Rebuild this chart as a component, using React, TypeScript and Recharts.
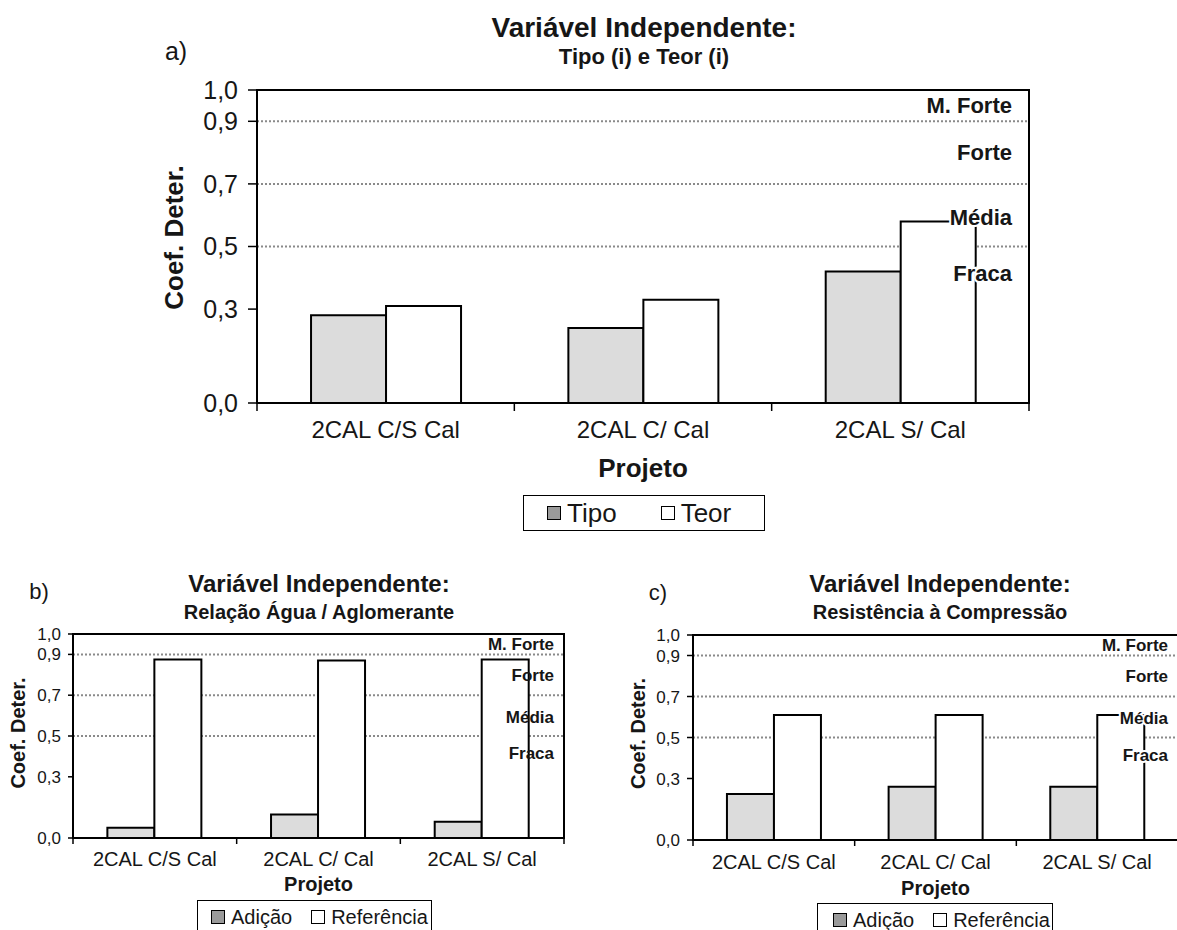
import React from 'react';
import { BarChart, Bar, XAxis, YAxis, CartesianGrid, ReferenceLine, ReferenceArea } from 'recharts';

const projetos = ['2CAL C/S Cal', '2CAL C/ Cal', '2CAL S/ Cal'];

// a) Tipo (i) e Teor (i)
const tipoValues = [0.28, 0.24, 0.42];
const teorValues = [0.31, 0.33, 0.58];

// b) Relação água / aglomerante
const aguaAdicao = [0.05, 0.115, 0.08];
const aguaReferencia = [0.875, 0.87, 0.875];

// c) Resistência à compressão
const resistAdicao = [0.225, 0.26, 0.26];
const resistReferencia = [0.61, 0.61, 0.61];

const yTicks = [0, 0.3, 0.5, 0.7, 0.9, 1.0];
const limites = [0.9, 0.7, 0.5];
const faixas = [
  { nome: 'M. Forte', y: 0.95 },
  { nome: 'Forte', y: 0.8 },
  { nome: 'Média', y: 0.595 },
  { nome: 'Fraca', y: 0.415 },
];

const FONT = '"Liberation Sans", Arial, Helvetica, sans-serif';
const INK = '#161616';
const GRAY_BAR = '#dcdcdc';
const GRAY_KEY = '#9a9a9a';
const DEFAULT_TICK_SIZE = 6;

const fmt = (v: number) => v.toFixed(1).replace('.', ',');

type Row = { projeto: string; a: number; b: number };
const buildRows = (a: number[], b: number[]): Row[] =>
  projetos.map((p, i) => ({ projeto: p, a: a[i], b: b[i] }));

// category label plus the small tick marks on the category boundaries
const makeCategoryTick =
  (band: number, tickMargin: number, fontSize: number, markLen: number) => (tp: any) => {
    const { x, y, payload, index } = tp;
    const axisY = y - DEFAULT_TICK_SIZE - tickMargin;
    const left = x - band / 2;
    const right = x + band / 2;
    return (
      <g>
        <line x1={left} x2={left} y1={axisY} y2={axisY + markLen} stroke="#000" strokeWidth={1.5} />
        {index === projetos.length - 1 && (
          <line x1={right} x2={right} y1={axisY} y2={axisY + markLen} stroke="#000" strokeWidth={1.5} />
        )}
        <text x={x} y={y} dy="0.71em" textAnchor="middle" fontSize={fontSize} fill={INK}>
          {payload.value}
        </text>
      </g>
    );
  };

interface PanelProps {
  left: number;
  top: number;
  width: number;
  height: number;
  margin: { top: number; right: number; bottom: number; left: number };
  rows: Row[];
  names: [string, string];
  yAxisWidth: number;
  xAxisHeight: number;
  xTickFont: number;
  xTickMargin: number;
  xMarkLen: number;
  yTickFont: number;
  yTickSize: number;
  yTickMargin: number;
  titleFont: number;
  yTitleOffset: number;
  yTitleDy: number;
  xTitleOffset: number;
  zoneFont: number;
  zoneInset: number;
  zoneHalo: boolean;
}

const Panel: React.FC<PanelProps> = (p) => {
  const plotWidth = p.width - p.margin.left - p.margin.right - p.yAxisWidth;
  const band = plotWidth / projetos.length;
  return (
    <div style={{ position: 'absolute', left: p.left, top: p.top }}>
      <BarChart
        width={p.width}
        height={p.height}
        data={p.rows}
        margin={p.margin}
        barCategoryGap="21%"
        barGap={0}
      >
        <CartesianGrid
          vertical={false}
          horizontalValues={limites}
          stroke="#8a8a8a"
          strokeWidth={2}
          strokeDasharray="2 2"
        />
        <ReferenceArea y1={0} y2={1} fill="none" stroke="#000" strokeWidth={2} />
        <XAxis
          dataKey="projeto"
          interval={0}
          tickLine={false}
          axisLine={{ stroke: '#000', strokeWidth: 2 }}
          height={p.xAxisHeight}
          tickMargin={p.xTickMargin}
          tick={makeCategoryTick(band, p.xTickMargin, p.xTickFont, p.xMarkLen)}
          label={{
            value: 'Projeto',
            position: 'insideBottom',
            offset: p.xTitleOffset,
            fill: INK,
            fontSize: p.titleFont,
            fontWeight: 'bold',
          }}
        />
        <YAxis
          domain={[0, 1]}
          ticks={yTicks}
          interval={0}
          tickFormatter={fmt}
          width={p.yAxisWidth}
          axisLine={{ stroke: '#000', strokeWidth: 2 }}
          tickLine={{ stroke: '#000', strokeWidth: 1.5 }}
          tickSize={p.yTickSize}
          tickMargin={p.yTickMargin}
          tick={{ fill: INK, fontSize: p.yTickFont }}
          label={{
            value: 'Coef. Deter.',
            angle: -90,
            position: 'insideLeft',
            offset: p.yTitleOffset,
            dy: p.yTitleDy,
            fill: INK,
            fontSize: p.titleFont,
            fontWeight: 'bold',
            style: { textAnchor: 'middle' },
          }}
        />
        <Bar dataKey="a" name={p.names[0]} fill={GRAY_BAR} stroke="#000" strokeWidth={2} isAnimationActive={false} />
        <Bar dataKey="b" name={p.names[1]} fill="#fff" stroke="#000" strokeWidth={2} isAnimationActive={false} />
        {faixas.map((f) => (
          <ReferenceLine
            key={f.nome}
            y={f.y}
            stroke="none"
            label={{
              value: f.nome,
              position: 'insideRight',
              offset: p.zoneInset,
              fill: INK,
              fontSize: p.zoneFont,
              fontWeight: 'bold',
              stroke: p.zoneHalo ? '#fff' : 'none',
              strokeWidth: p.zoneHalo ? 4 : 0,
              style: { paintOrder: 'stroke' },
            }}
          />
        ))}
      </BarChart>
    </div>
  );
};

const Centered: React.FC<{ x: number; y: number; size: number; bold?: boolean; children: React.ReactNode }> = ({
  x,
  y,
  size,
  bold = true,
  children,
}) => (
  <div
    style={{
      position: 'absolute',
      left: x,
      top: y,
      transform: 'translate(-50%, -50%)',
      fontSize: size,
      fontWeight: bold ? 'bold' : 'normal',
      lineHeight: 1,
      whiteSpace: 'nowrap',
      color: INK,
    }}
  >
    {children}
  </div>
);

interface LegendBoxProps {
  left: number;
  top: number;
  width: number;
  height: number;
  names: [string, string];
  fontSize: number;
  padLeft: number;
  keyGap: number;
  itemGap: number;
  keySize: number;
}

const LegendBox: React.FC<LegendBoxProps> = (l) => {
  const key = (fill: string) => (
    <span
      style={{
        display: 'inline-block',
        width: l.keySize,
        height: l.keySize,
        background: fill,
        border: '1px solid #000',
        boxSizing: 'border-box',
        marginRight: l.keyGap,
      }}
    />
  );
  return (
    <div
      style={{
        position: 'absolute',
        left: l.left,
        top: l.top,
        width: l.width,
        height: l.height,
        border: '1.5px solid #000',
        boxSizing: 'border-box',
        display: 'flex',
        alignItems: 'center',
        paddingLeft: l.padLeft,
        fontSize: l.fontSize,
        color: INK,
        lineHeight: 1,
      }}
    >
      {key(GRAY_KEY)}
      <span style={{ marginRight: l.itemGap }}>{l.names[0]}</span>
      {key('#fff')}
      <span>{l.names[1]}</span>
    </div>
  );
};

export default function App() {
  return (
    <div
      style={{
        position: 'fixed',
        left: 0,
        top: 0,
        width: 1177,
        height: 930,
        overflow: 'hidden',
        background: '#fff',
        fontFamily: FONT,
      }}
    >
      {/* a) */}
      <Centered x={176} y={51} size={25} bold={false}>a)</Centered>
      <Centered x={644} y={28} size={28}>Variável Independente:</Centered>
      <Centered x={644} y={57} size={22}>Tipo (i) e Teor (i)</Centered>
      <Panel
        left={0}
        top={0}
        width={1177}
        height={503}
        margin={{ top: 90, right: 148, bottom: 0, left: 147 }}
        rows={buildRows(tipoValues, teorValues)}
        names={['Tipo', 'Teor']}
        yAxisWidth={110}
        xAxisHeight={100}
        xTickFont={24}
        xTickMargin={12}
        xMarkLen={8}
        yTickFont={25}
        yTickSize={9}
        yTickMargin={10}
        titleFont={26}
        yTitleOffset={27}
        yTitleDy={-9}
        xTitleOffset={26}
        zoneFont={22}
        zoneInset={17}
        zoneHalo
      />
      <LegendBox
        left={523}
        top={495}
        width={242}
        height={36}
        names={['Tipo', 'Teor']}
        fontSize={26}
        padLeft={23}
        keyGap={6}
        itemGap={44}
        keySize={14}
      />

      {/* b) */}
      <Centered x={39} y={592} size={22} bold={false}>b)</Centered>
      <Centered x={319} y={584} size={24}>Variável Independente:</Centered>
      <Centered x={319} y={612} size={20}>Relação Água / Aglomerante</Centered>
      <Panel
        left={0}
        top={620}
        width={600}
        height={310}
        margin={{ top: 14, right: 36, bottom: 0, left: 0 }}
        rows={buildRows(aguaAdicao, aguaReferencia)}
        names={['Adição', 'Referência']}
        yAxisWidth={73}
        xAxisHeight={92}
        xTickFont={20}
        xTickMargin={8}
        xMarkLen={6}
        yTickFont={17}
        yTickSize={5}
        yTickMargin={7}
        titleFont={20}
        yTitleOffset={18}
        yTitleDy={-3}
        xTitleOffset={39}
        zoneFont={17}
        zoneInset={10}
        zoneHalo={false}
      />
      <LegendBox
        left={197}
        top={900}
        width={235}
        height={34}
        names={['Adição', 'Referência']}
        fontSize={20}
        padLeft={13}
        keyGap={6}
        itemGap={19}
        keySize={14}
      />

      {/* c) */}
      <Centered x={658} y={593} size={22} bold={false}>c)</Centered>
      <Centered x={940} y={584} size={24}>Variável Independente:</Centered>
      <Centered x={940} y={612} size={20}>Resistência à Compressão</Centered>
      <Panel
        left={600}
        top={620}
        width={600}
        height={310}
        margin={{ top: 15, right: 22, bottom: 0, left: 0 }}
        rows={buildRows(resistAdicao, resistReferencia)}
        names={['Adição', 'Referência']}
        yAxisWidth={93}
        xAxisHeight={90}
        xTickFont={20}
        xTickMargin={9}
        xMarkLen={6}
        yTickFont={17}
        yTickSize={6}
        yTickMargin={7}
        titleFont={20}
        yTitleOffset={38}
        yTitleDy={-4}
        xTitleOffset={35}
        zoneFont={17}
        zoneInset={10}
        zoneHalo
      />
      <LegendBox
        left={817}
        top={903}
        width={236}
        height={34}
        names={['Adição', 'Referência']}
        fontSize={20}
        padLeft={15}
        keyGap={6}
        itemGap={19}
        keySize={14}
      />
    </div>
  );
}
